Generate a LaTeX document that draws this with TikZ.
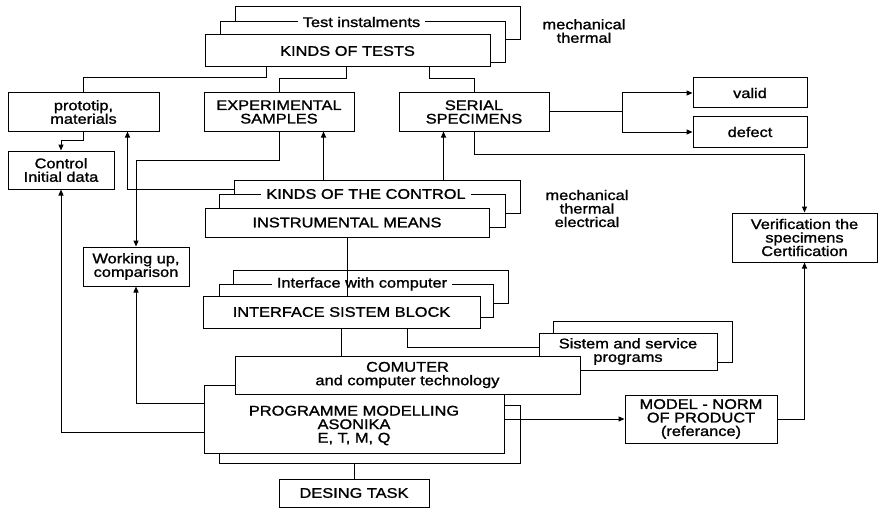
\documentclass[tikz,border=0pt]{standalone}
\usepackage{fontspec}
\setmainfont{Liberation Sans}[FakeStretch=1.17,FakeBold=1.3]
\usetikzlibrary{arrows.meta,calc}
\tikzset{
 box/.style={draw, fill=white, line width=1pt, inner sep=0pt, align=center, font=\fontsize{14}{13.5}\selectfont},
 tag/.style={fill=white, inner xsep=5pt, inner ysep=1pt, font=\fontsize{14}{13.5}\selectfont},
 wire/.style={line width=1pt},
 arr/.style={wire, -{Triangle[length=6pt,width=5pt]}},
 note/.style={align=center, font=\fontsize{14}{13.5}\selectfont, inner sep=0pt},
}
\newcommand{\rbox}[7][]{\node[box,#1,minimum width={(#5-#3)*1pt},minimum height={(#6-#4)*1pt}] (#2) at ({(#3+#5)/2},{(#4+#6)/2}) {#7};}
\begin{document}
\begin{tikzpicture}[x=1pt,y=-1pt]
\useasboundingbox (0,0) rectangle (879,511);

% top group
\rbox{testsB}{235}{7}{520}{40}{}
\rbox{testsM}{220}{22}{505}{63}{}
\node[tag] (testsL) at (361.5,22) {Test instalments};
\rbox{testsF}{205}{35}{490}{67}{KINDS OF TESTS}
\node[note] (notesA) at (584,31) {mechanical\\thermal};

% second row
\rbox{proto}{8}{93}{159}{131}{prototip,\\materials}
\rbox{exp}{204}{93}{354}{131}{EXPERIMENTAL\\SAMPLES}
\rbox{serial}{399}{93}{549}{131}{SERIAL\\SPECIMENS}
\rbox{valid}{693}{78}{807}{108}{valid}
\rbox{defect}{693}{117}{807}{147}{defect}
\rbox{control}{8}{151}{114}{189}{Control\\Initial data}
\rbox{working}{83}{247}{189}{286}{Working up,\\comparison}
\rbox{verif}{732}{213}{877}{262}{Verification the\\specimens\\Certification}

% control group
\rbox{ctrlB}{234}{180}{520}{213}{}
\rbox{ctrlM}{219}{194}{505}{227}{}
\node[tag] (ctrlL) at (366,194) {KINDS OF THE CONTROL};
\rbox{instr}{205}{208}{489}{237}{INSTRUMENTAL MEANS}
\node[note] (notesB) at (587,208.5) {mechanical\\thermal\\electrical};

% interface group
\rbox{ifB}{233}{270}{508}{303}{}
\rbox{ifM}{219}{284}{493}{317}{}
\node[tag] (ifL) at (362,284) {Interface with computer};
\rbox{ifF}{203}{296}{480}{328}{INTERFACE SISTEM BLOCK}

% system programs
\rbox{sysB}{553}{321}{732}{362}{}
\rbox{sysF}{539}{333}{717}{370}{Sistem and service\\programs}

% programme group
\rbox{progB}{219}{405}{520}{463}{}
\rbox{progF}{204}{385}{504}{453}{}
\rbox{comp}{235}{356}{580}{394}{COMUTER\\and computer technology}
\node[note] (progT) at (354,425.5) {PROGRAMME MODELLING\\ASONIKA\\E, T, M, Q};
\rbox{desing}{279}{479}{429}{507}{DESING TASK}
\rbox{model}{625}{395}{777}{443}{MODEL - NORM\\OF PRODUCT\\(referance)}

% connectors
\draw[wire] ($(testsF.south west)+(62,0)$) -- ++(0,10) -| (proto.north);
\draw[wire] ($(testsF.south west)+(142,0)$) -- ++(0,11) -| (exp.north);
\draw[wire] ($(testsF.south west)+(225,0)$) -- ++(0,11) -| (serial.north);
\draw[arr] (proto.south) -- ++(0,9) -| (control.north);
\draw[arr] ($(ctrlB.north west)+(0,10)$) -| ($(proto.south west)+(120,0)$);
\draw[arr] (exp.south) -- ++(0,29) -| (working.north);
\draw[arr] ($(ctrlB.north west)+(90,0)$) coordinate (ea) -- (ea |- exp.south);
\draw[arr] ($(ctrlB.north west)+(210,0)$) coordinate (sa) -- (sa |- serial.south);
\draw[wire] (serial.east) -- ++(73,0) coordinate (br);
\draw[arr] (br) |- (valid.west);
\draw[arr] (br) |- (defect.west);
\draw[arr] (serial.south) -- ++(0,23) -| (verif.north);
\draw[wire] (instr.south) -- (instr.south |- ifF.north);
\draw[wire] (ifF.south) -- (ifF.south |- comp.north);
\draw[wire] ($(ifF.south west)+(205,0)$) |- ($(sysF.west)+(0,-4)$);
\draw[arr] ($(progF.north west)+(0,19)$) -| (working.south);
\draw[arr] ($(progF.north west)+(0,48)$) -| (control.south);
\draw[arr] (progF.east) -- (model.west);
\draw[arr] (model.east) -| (verif.south);
\draw[wire] (desing.north) -- (desing.north |- progB.south);
\end{tikzpicture}
\end{document}
